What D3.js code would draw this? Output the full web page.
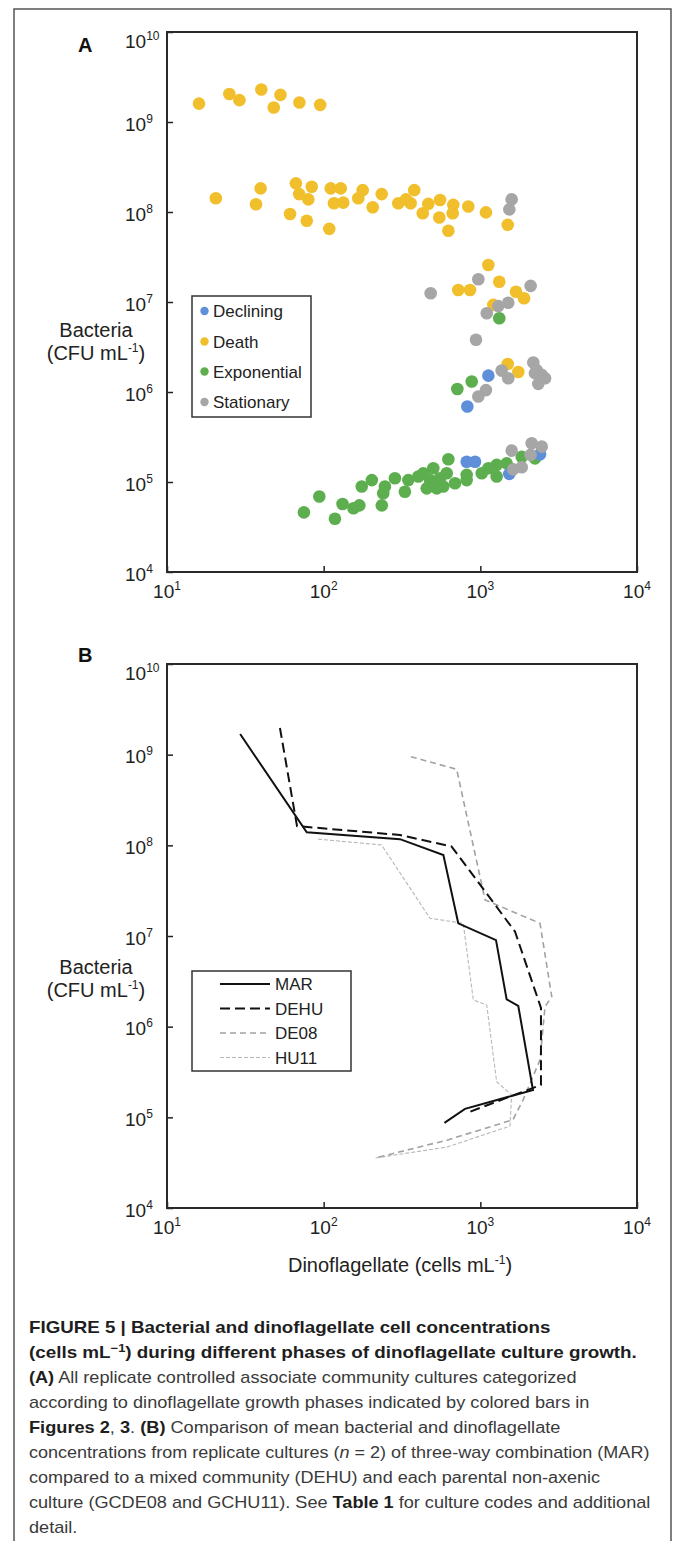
<!DOCTYPE html>
<html><head><meta charset="utf-8">
<script src="https://cdn.jsdelivr.net/npm/d3@7"></script>
<style>
html,body{margin:0;padding:0;background:#fff;}
svg{display:block;font-family:"Liberation Sans",Arial,Helvetica,sans-serif;}
</style></head><body>
<svg id="c" width="673" height="1541"></svg>
<script>
// ---------- DATA ----------
// Panel A: [dinoflagellate cells/mL, bacteria CFU/mL]
const declining = [[1125,1.52e6],[826,6.9e5],[2404,2.03e5],[818,1.68e5],[925,1.68e5],[1531,1.23e5]];
const death = [
 [16,1.6e9],[25,2.05e9],[29,1.75e9],[40,2.3e9],[53,2.0e9],[48,1.45e9],[70,1.65e9],[95,1.55e9],
 [20.5,1.42e8],[39.6,1.83e8],[37,1.22e8],[66.5,2.08e8],[83.9,1.91e8],[69.8,1.58e8],[79.8,1.38e8],[61,9.5e7],
 [78,8.0e7],[108.6,6.5e7],[110.9,1.83e8],[128.5,1.83e8],[116.4,1.25e8],[133.4,1.27e8],[177.4,1.75e8],[166.3,1.42e8],
 [205.6,1.13e8],[234.6,1.58e8],[299.5,1.25e8],[335,1.38e8],[378.6,1.75e8],[359,1.25e8],[429,9.7e7],[465.6,1.23e8],
 [553,1.36e8],[547,8.7e7],[625,6.2e7],[672,1.2e8],[666,9.7e7],[838,1.15e8],[1086,9.9e7],[1496,7.2e7],
 [1125,2.58e7],[1321,1.68e7],[723,1.36e7],[859,1.36e7],[1689,1.30e7],[1901,1.10e7],[1210,9.3e6],[1496,2.05e6],[1747,1.67e6]];
const exponential = [
 [1321,6.6e6],[881,1.31e6],[713,1.08e6],
 [1837,1.91e5],[2233,1.83e5],[625,1.79e5],[1472,1.61e5],[1271,1.55e5],[1125,1.42e5],[1021,1.25e5],[1271,1.15e5],
 [818,1.20e5],[818,1.05e5],[689,9.7e4],[610,1.25e5],[580,8.9e4],[527,8.5e4],[455,8.5e4],[501,1.42e5],[433,1.25e5],
 [402,1.15e5],[553,1.10e5],[477,1.05e5],[347,1.05e5],[330,7.8e4],[285,1.10e5],[246,8.9e4],[240,7.5e4],[235,5.5e4],
 [203,1.05e5],[175,8.9e4],[169,5.5e4],[155,5.1e4],[132,5.7e4],[93.8,6.9e4],[74.8,4.6e4],[118,3.9e4]];
const stationary = [
 [1585,1.38e8],[1531,1.07e8],[971,1.79e7],[482,1.25e7],[2094,1.51e7],[1507,9.8e6],[1302,9.0e6],[1099,7.5e6],
 [938,3.8e6],[2178,2.13e6],[2233,1.62e6],[2466,1.55e6],[2588,1.42e6],[2344,1.23e6],[2290,1.75e6],[1368,1.73e6],
 [1507,1.42e6],[1086,1.05e6],[971,8.9e5],[2127,2.69e5],[2466,2.47e5],[1585,2.23e5],[2094,2.0e5],[1837,1.46e5],[1622,1.38e5]];
const phaseNames = ["Declining","Death","Exponential","Stationary"];

// Panel B: mean trajectories
const mar  = [[29.3,1.69e9],[78,1.39e8],[307,1.17e8],[581,7.8e7],[723,1.38e7],[1259,9.0e6],[1472,2.0e6],[1746,1.7e6],[2168,2.0e5],[798,1.24e5],[590,8.7e4]];
const dehu = [[52.6,1.97e9],[67.6,1.63e8],[307,1.30e8],[656,9.7e7],[1664,1.12e7],[2438,1.61e6],[2438,2.28e5],[822,1.12e5]];
const de08 = [[360,9.5e8],[706,6.9e8],[1072,2.5e7],[2404,1.38e7],[2858,2.14e6],[2587,1.66e6],[2404,4.3e5],[1872,1.55e5],[1615,9.4e4],[612,5.6e4],[213,3.56e4]];
const hu11 = [[92,1.17e8],[234,1.01e8],[477,1.57e7],[778,1.38e7],[902,1.97e6],[1099,1.73e6],[1271,2.47e5],[1585,1.76e5],[1545,8.0e4],[612,4.7e4],[213,3.56e4]];
const lineNames = ["MAR","DEHU","DE08","HU11"];

const xTickVals = [1e1,1e2,1e3,1e4];
const yTickVals = [1e4,1e5,1e6,1e7,1e8,1e9,1e10];

// ---------- STYLES ----------
const phaseColors = {Declining:"#5f8fd9",Death:"#f1bf2c",Exponential:"#5dae4f",Stationary:"#a6a6a6"};
const lineStyles = {
  MAR:{stroke:"#111",w:2,dash:null},
  DEHU:{stroke:"#111",w:2,dash:"10,5"},
  DE08:{stroke:"#a2a2a2",w:1.6,dash:"6,4"},
  HU11:{stroke:"#b8b8b8",w:1.1,dash:"4,2"}
};

const svg = d3.select("#c");
const L=167, R=637;
const x = d3.scaleLog().domain([10,1e4]).range([L,R]);
const yA = d3.scaleLog().domain([1e4,1e10]).range([572,32]);
const yB = d3.scaleLog().domain([1e4,1e10]).range([1208,664]);

// outer frame (open at bottom)
svg.append("path").attr("d","M14,1541 L14,9 L671,9 L671,1541").attr("fill","none").attr("stroke","#555").attr("stroke-width",1.5);

function panel(y, top, bottom, letter, letterY, titleY){
  const gx = svg.append("g").attr("transform",`translate(0,${bottom})`)
    .call(d3.axisBottom(x).tickValues(xTickVals).tickSize(-6).tickFormat(""));
  gx.select(".domain").remove();
  gx.selectAll("line").attr("stroke","#222").attr("stroke-width",1.5);
  const gy = svg.append("g").attr("transform",`translate(${L},0)`)
    .call(d3.axisLeft(y).tickValues(yTickVals).tickSize(-6).tickFormat(""));
  gy.select(".domain").remove();
  gy.selectAll("line").attr("stroke","#222").attr("stroke-width",1.5);
  svg.append("rect").attr("x",L).attr("y",top).attr("width",R-L).attr("height",bottom-top)
    .attr("fill","none").attr("stroke","#2a2a2a").attr("stroke-width",2);
  xTickVals.forEach(v=>{
    const t = svg.append("text").attr("x",x(v)).attr("y",bottom+26).attr("text-anchor","middle")
      .attr("font-size",19).attr("fill","#222");
    t.append("tspan").text("10");
    t.append("tspan").attr("dy",-8).attr("font-size",12).text(Math.round(Math.log10(v)));
  });
  yTickVals.forEach(v=>{
    const e = Math.round(Math.log10(v));
    const yy = y(v) + (e===10 ? 16 : 8.5);
    const t = svg.append("text").attr("x",125).attr("y",yy).attr("font-size",19).attr("fill","#222");
    t.append("tspan").text("10");
    t.append("tspan").attr("dy",-8).attr("font-size",12).text(e);
  });
  svg.append("text").attr("x",78).attr("y",letterY).attr("font-size",20).attr("font-weight","bold").attr("fill","#111").text(letter);
  svg.append("text").attr("x",96).attr("y",titleY).attr("text-anchor","middle").attr("font-size",20).attr("fill","#222").text("Bacteria");
  const t2 = svg.append("text").attr("x",96).attr("y",titleY+23).attr("text-anchor","middle").attr("font-size",20).attr("fill","#222");
  t2.append("tspan").text("(CFU mL");
  t2.append("tspan").attr("dy",-8).attr("font-size",12).text("-1");
  t2.append("tspan").attr("dy",8).text(")");
}

panel(yA, 32, 572, "A", 52, 337);
panel(yB, 664, 1208, "B", 662, 974);

// ---------- Panel A points ----------
const phases = {Declining:declining,Death:death,Exponential:exponential,Stationary:stationary};
["Exponential","Declining","Death","Stationary"].forEach(k=>{
  svg.append("g").selectAll("circle").data(phases[k]).join("circle")
    .attr("cx",d=>x(d[0])).attr("cy",d=>yA(d[1])).attr("r",6.3).attr("fill",phaseColors[k]);
});
svg.append("rect").attr("x",192).attr("y",296).attr("width",119).attr("height",121)
  .attr("fill","#fff").attr("stroke","#333").attr("stroke-width",1.5);
const legAy = [311,341.5,371.5,402];
phaseNames.forEach((k,i)=>{
  svg.append("circle").attr("cx",204.5).attr("cy",legAy[i]).attr("r",4.2).attr("fill",phaseColors[k]);
  svg.append("text").attr("x",213).attr("y",legAy[i]+6).attr("font-size",17).attr("fill","#222").text(k);
});

// ---------- Panel B lines ----------
const line = d3.line().x(d=>x(d[0])).y(d=>yB(d[1]));
const series = {MAR:mar,DEHU:dehu,DE08:de08,HU11:hu11};
["HU11","DE08","DEHU","MAR"].forEach(k=>{
  const s = lineStyles[k];
  svg.append("path").datum(series[k]).attr("d",line).attr("fill","none")
    .attr("stroke",s.stroke).attr("stroke-width",s.w).attr("stroke-dasharray",s.dash)
    .attr("stroke-linejoin","miter");
});
svg.append("rect").attr("x",192).attr("y",971).attr("width",159).attr("height",100)
  .attr("fill","#fff").attr("stroke","#333").attr("stroke-width",1.5);
const legBy = [984,1008.5,1033,1057.5];
lineNames.forEach((k,i)=>{
  const s = lineStyles[k];
  svg.append("line").attr("x1",220).attr("x2",270).attr("y1",legBy[i]).attr("y2",legBy[i])
    .attr("stroke",s.stroke).attr("stroke-width",s.w).attr("stroke-dasharray",s.dash);
  svg.append("text").attr("x",275).attr("y",legBy[i]+6).attr("font-size",17).attr("fill","#222").text(k);
});
const xt = svg.append("text").attr("x",400).attr("y",1272).attr("text-anchor","middle").attr("font-size",20).attr("fill","#222");
xt.append("tspan").text("Dinoflagellate (cells mL");
xt.append("tspan").attr("dy",-8).attr("font-size",12).text("-1");
xt.append("tspan").attr("dy",8).text(")");

// ---------- Caption ----------
const capX = 29, capY0 = 1333, capDy = 25;
const capLines = [
  {end:551, parts:[["FIGURE 5 | Bacterial and dinoflagellate cell concentrations","b"]]},
  {end:637, parts:[["(cells mL","b"],["\u22121","bs"],[") during different phases of dinoflagellate culture growth.","b"]]},
  {end:577, parts:[["(A)","b"],[" All replicate controlled associate community cultures categorized","r"]]},
  {end:590, parts:[["according to dinoflagellate growth phases indicated by colored bars in","r"]]},
  {end:561, parts:[["Figures 2","b"],[", ","r"],["3","b"],[". ","r"],["(B)","b"],[" Comparison of mean bacterial and dinoflagellate","r"]]},
  {end:650, parts:[["concentrations from replicate cultures (","r"],["n","i"],[" = 2) of three-way combination (MAR)","r"]]},
  {end:601, parts:[["compared to a mixed community (DEHU) and each parental non-axenic","r"]]},
  {end:651, parts:[["culture (GCDE08 and GCHU11). See ","r"],["Table 1","b"],[" for culture codes and additional","r"]]},
  {end:null, parts:[["detail.","r"]]}
];
let lastScale = 0.85;
capLines.forEach((ln,i)=>{
  const t = svg.append("text").attr("x",0).attr("y",0).attr("font-size",16).attr("fill","#3a3a3a");
  let shifted=false;
  ln.parts.forEach(([s,st])=>{
    const ts = t.append("tspan").text(s);
    if(st==="b"||st==="bs"){ts.attr("font-weight","bold").attr("fill","#1e1e1e");}
    if(st==="i"){ts.attr("font-style","italic");}
    if(st==="bs"){ts.attr("dy",-6).attr("font-size",11); shifted=true;}
    else if(shifted){ts.attr("dy",6); shifted=false;}
  });
  const w = t.node().getComputedTextLength();
  const sc = ln.end ? (ln.end-capX)/w : lastScale;
  lastScale = sc;
  t.attr("transform",`translate(${capX},${capY0+i*capDy}) scale(${sc},1)`);
});
</script></body></html>
